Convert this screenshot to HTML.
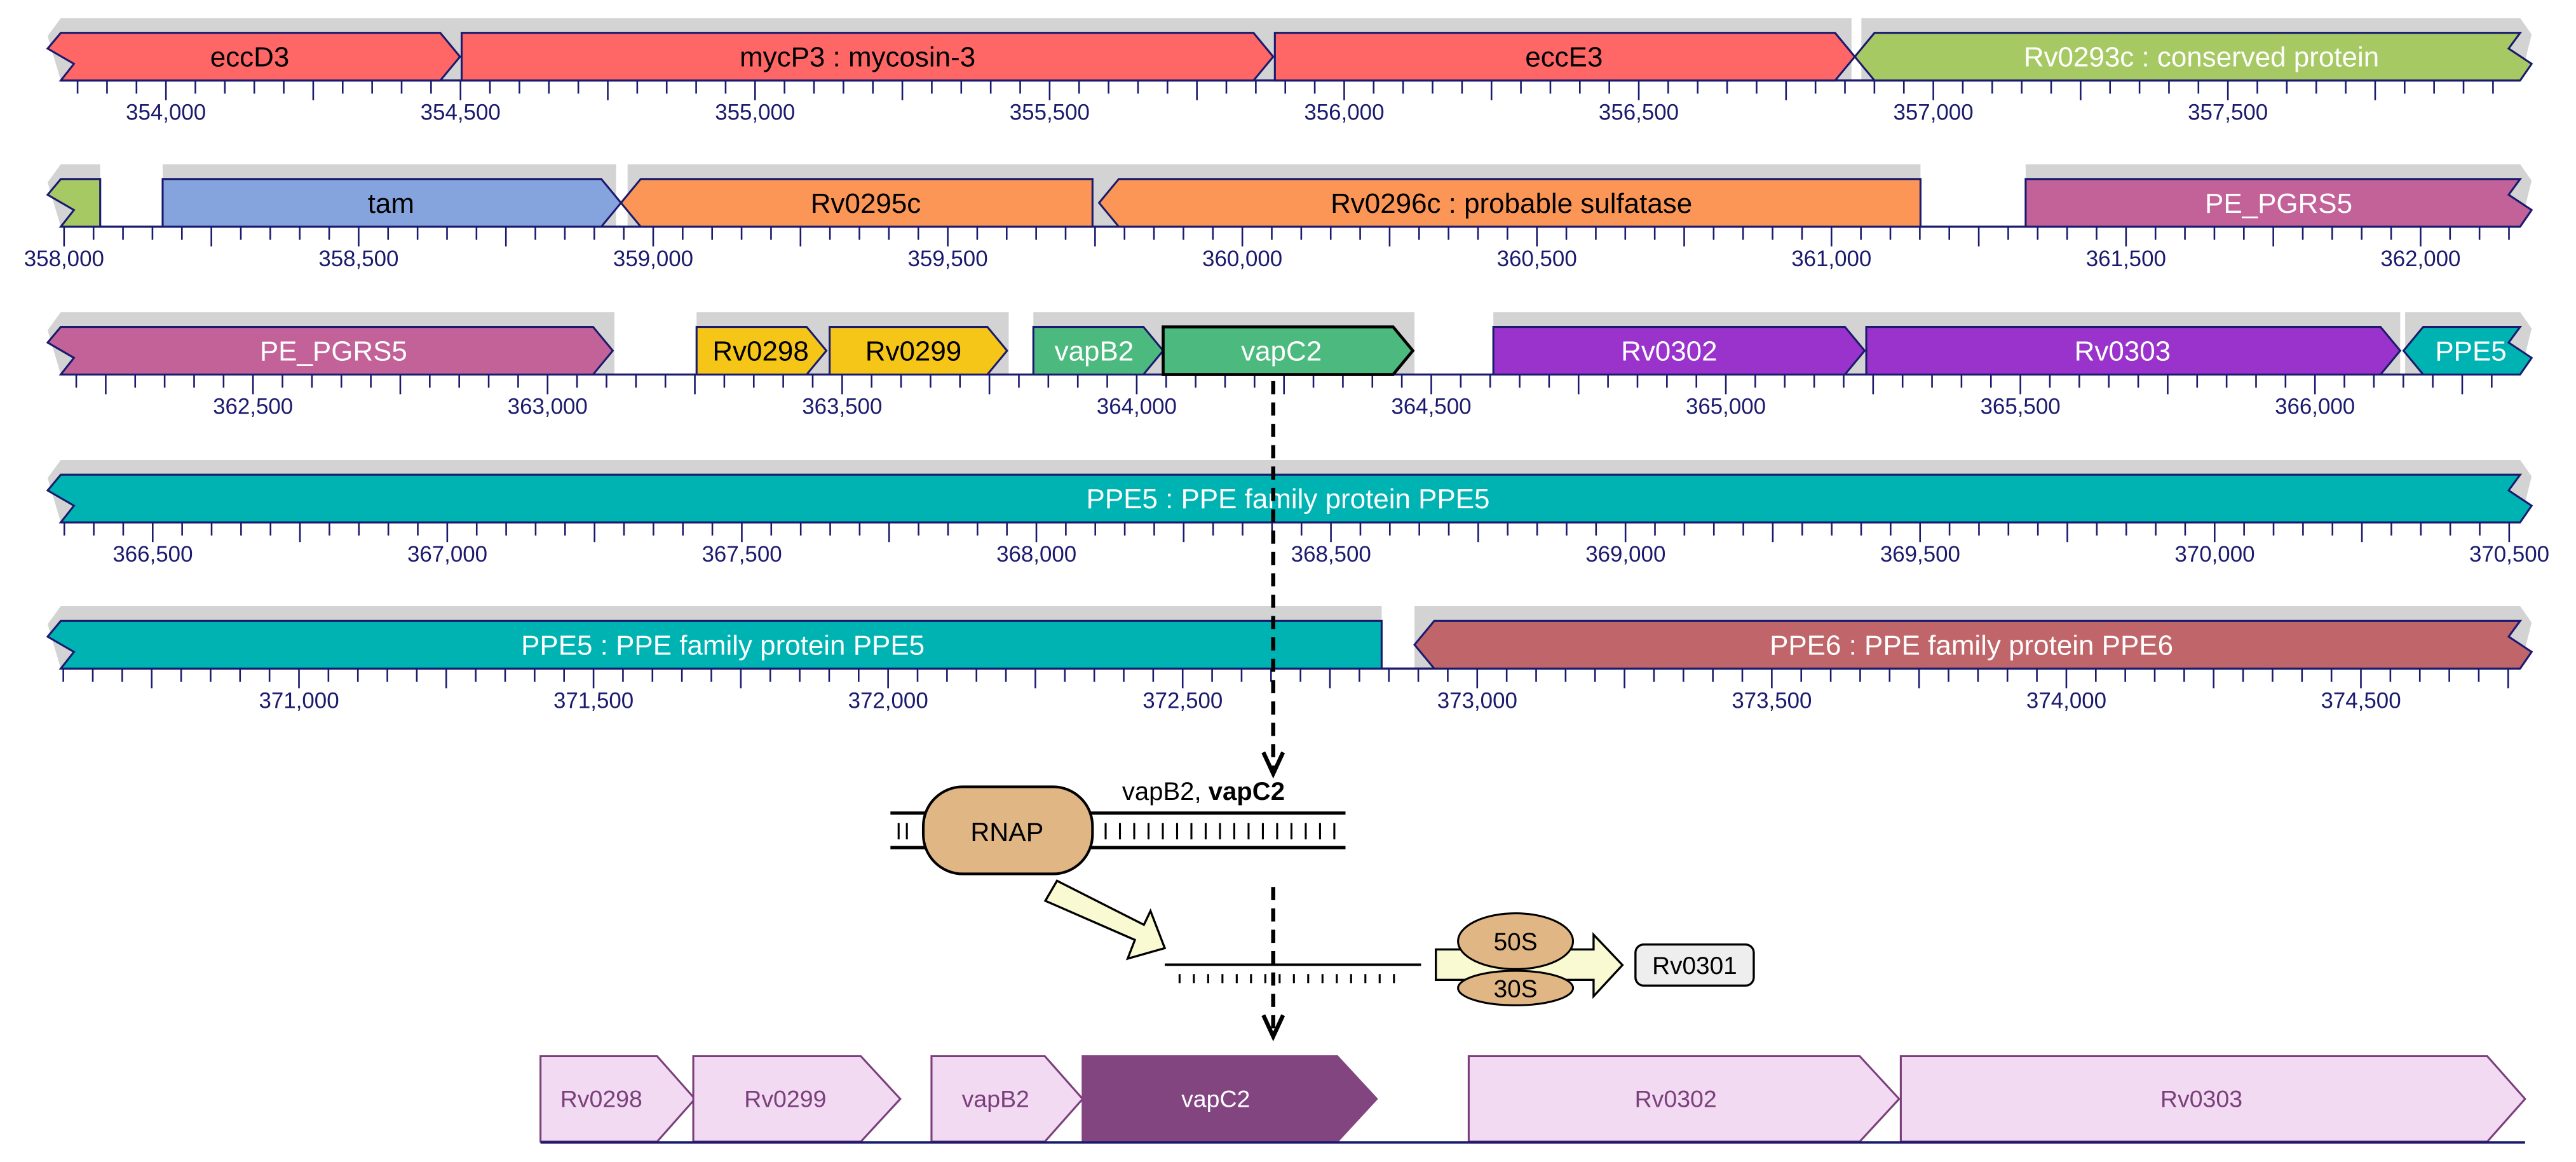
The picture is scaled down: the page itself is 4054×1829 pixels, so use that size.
<!DOCTYPE html>
<html><head><meta charset="utf-8"><style>
html,body{margin:0;padding:0;background:#fff;width:4054px;height:1829px;overflow:hidden}
svg{display:block}
text{font-family:"Liberation Sans",Arial,sans-serif}
</style></head><body>
<svg id="s" xmlns="http://www.w3.org/2000/svg" width="4054" height="1829" viewBox="0 0 1568 707.4" preserveAspectRatio="none">
<g id="grey"></g><g id="axes"></g><g id="genes"></g>
<g id="lbl" font-size="13.5" fill="#1a1a6e" text-anchor="middle">
<text x="101" y="73">354,000</text><text x="280.3" y="73">354,500</text><text x="459.6" y="73">355,000</text><text x="638.9" y="73">355,500</text><text x="818.2" y="73">356,000</text><text x="997.5" y="73">356,500</text><text x="1176.8" y="73">357,000</text><text x="1356.1" y="73">357,500</text>
<text x="39" y="162">358,000</text><text x="218.3" y="162">358,500</text><text x="397.6" y="162">359,000</text><text x="576.9" y="162">359,500</text><text x="756.2" y="162">360,000</text><text x="935.5" y="162">360,500</text><text x="1114.8" y="162">361,000</text><text x="1294.1" y="162">361,500</text><text x="1473.4" y="162">362,000</text>
<text x="154" y="252">362,500</text><text x="333.3" y="252">363,000</text><text x="512.6" y="252">363,500</text><text x="691.9" y="252">364,000</text><text x="871.2" y="252">364,500</text><text x="1050.5" y="252">365,000</text><text x="1229.8" y="252">365,500</text><text x="1409.1" y="252">366,000</text>
<text x="93" y="342">366,500</text><text x="272.3" y="342">367,000</text><text x="451.6" y="342">367,500</text><text x="630.9" y="342">368,000</text><text x="810.2" y="342">368,500</text><text x="989.5" y="342">369,000</text><text x="1168.8" y="342">369,500</text><text x="1348.1" y="342">370,000</text><text x="1527.4" y="342">370,500</text>
<text x="182" y="431">371,000</text><text x="361.3" y="431">371,500</text><text x="540.6" y="431">372,000</text><text x="719.9" y="431">372,500</text><text x="899.2" y="431">373,000</text><text x="1078.5" y="431">373,500</text><text x="1257.8" y="431">374,000</text><text x="1437.1" y="431">374,500</text>
</g>
<g id="gl" font-size="17" text-anchor="middle">
<text x="152" y="40.5">eccD3</text><text x="522" y="40.5">mycP3 : mycosin-3</text><text x="952" y="40.5">eccE3</text><text x="1340" y="40.5" fill="#fff">Rv0293c : conserved protein</text>
<text x="238" y="129.5">tam</text><text x="527" y="129.5">Rv0295c</text><text x="920" y="129.5">Rv0296c : probable sulfatase</text><text x="1387" y="129.5" fill="#fff">PE_PGRS5</text>
<text x="203" y="219.5" fill="#fff">PE_PGRS5</text><text x="463" y="219.5">Rv0298</text><text x="556" y="219.5">Rv0299</text><text x="666" y="219.5" fill="#fff">vapB2</text><text x="780" y="219.5" fill="#fff">vapC2</text><text x="1016" y="219.5" fill="#fff">Rv0302</text><text x="1292" y="219.5" fill="#fff">Rv0303</text><text x="1504" y="219.5" fill="#fff">PPE5</text>
<text x="784" y="309.5" fill="#fff">PPE5 : PPE family protein PPE5</text>
<text x="440" y="398.5" fill="#fff">PPE5 : PPE family protein PPE5</text><text x="1200" y="398.5" fill="#fff">PPE6 : PPE family protein PPE6</text>
</g>
<g stroke="#000" stroke-width="2.5" fill="none">
<line x1="775" y1="232" x2="775" y2="470" stroke-dasharray="8,5"/>
<polyline points="769,458 775,471 781,458"/>
<line x1="775" y1="540" x2="775" y2="630" stroke-dasharray="8,5"/>
<polyline points="769,618 775,631 781,618"/>
</g>
<g stroke="#000" stroke-width="2" fill="none">
<line x1="542" y1="495" x2="819" y2="495"/><line x1="542" y1="516" x2="819" y2="516"/>
</g>
<g id="dnaticks" stroke="#000" stroke-width="1.2"></g>
<rect x="562" y="479" width="103" height="53" rx="24" fill="#dfb684" stroke="#000" stroke-width="1.6"/>
<text x="613" y="512" font-size="16" text-anchor="middle">RNAP</text>
<text x="683" y="487" font-size="15.5">vapB2, <tspan font-weight="bold">vapC2</tspan></text>
<polygon points="643.4,536.2 696.3,563 700.3,554.6 709,577.2 686.4,583.6 690.8,572.2 636.3,548.4" fill="#fafad2" stroke="#000" stroke-width="1.3"/>
<line x1="709" y1="587.3" x2="865" y2="587.3" stroke="#000" stroke-width="1.5"/>
<polygon points="874,578 970,578 970,569 987.6,587.5 970,606.5 970,596.5 874,596.5" fill="#fafad2" stroke="#000" stroke-width="1.3"/>
<ellipse cx="922.5" cy="601.5" rx="35" ry="10.5" fill="#dfb684" stroke="#000" stroke-width="1.2"/>
<ellipse cx="922.5" cy="573" rx="35" ry="17" fill="#dfb684" stroke="#000" stroke-width="1.2"/>
<text x="922.5" y="578.5" font-size="15" text-anchor="middle">50S</text>
<text x="922.5" y="607" font-size="15" text-anchor="middle">30S</text>
<rect x="995.5" y="575" width="72" height="25" rx="5" fill="#eeeeee" stroke="#000" stroke-width="1.3"/>
<text x="1031.5" y="593" font-size="15" text-anchor="middle">Rv0301</text>
<g stroke="#7b3f7b" stroke-width="1.2" fill="#f2daf2">
<polygon points="329,643 400,643 423,669 400,695 329,695"/>
<polygon points="422,643 524,643 548,669 524,695 422,695"/>
<polygon points="567,643 636,643 659,669 636,695 567,695"/>
<polygon points="659,643 814,643 838,669 814,695 659,695" fill="#824580" stroke="#824580"/>
<polygon points="894,643 1132,643 1156,669 1132,695 894,695"/>
<polygon points="1157,643 1514,643 1537,669 1514,695 1157,695"/>
</g>
<line x1="329" y1="695.5" x2="1537" y2="695.5" stroke="#1a1a6e" stroke-width="1.5"/>
<g font-size="14.5" fill="#7b3f7b" text-anchor="middle">
<text x="366" y="674">Rv0298</text><text x="478" y="674">Rv0299</text><text x="606" y="674">vapB2</text><text x="740" y="674" fill="#fff">vapC2</text><text x="1020" y="674">Rv0302</text><text x="1340" y="674">Rv0303</text>
</g>
</svg>
<script>
var NS="http://www.w3.org/2000/svg";
function el(p,t,a){var e=document.createElementNS(NS,t);for(var k in a)e.setAttribute(k,a[k]);document.getElementById(p).appendChild(e);return e;}
var rows=[{s:353821.5,t:20},{s:357994.4,t:109},{s:362173.7,t:199},{s:366344,t:289},{s:370595.7,t:378}];
var H=29,K=0.3586;
rows.forEach(function(r){
  var b=r.t+H;
  el("axes","line",{x1:37,y1:b,x2:1534,y2:b,stroke:"#1a1a6e","stroke-width":1.3});
  var start=Math.ceil(r.s/50)*50;
  for(var bp=start;;bp+=50){var x=37+(bp-r.s)*K;if(x>1534)break;
    var L=(bp%250==0)?12:8;
    el("axes","line",{x1:x,y1:b,x2:x,y2:b+L,stroke:"#1a1a6e","stroke-width":1});}
});
function grey(ri,x1,x2,contL,contR){var t=rows[ri].t,b=t+H;
  var p=[];p.push([x1,t-9]);p.push([x2,t-9]);if(contR)p.push([x2+7,t-9+10]);p.push([x2,b]);p.push([x1,b]);if(contL)p.push([x1-8,t+2]);
  el("grey","polygon",{points:p.map(function(q){return q.join(",")}).join(" "),fill:"#d3d3d3"});}
function gene(ri,x1,x2,dir,col,opt){opt=opt||{};var t=rows[ri].t,b=t+H,m=t+H/2,tw=12,p=[];
  if(opt.cl){p.push([37,b],[45,t+H*0.65],[29,t+H*0.33],[37,t]);}
  else if(dir<0){p.push([x1+tw,b],[x1,m],[x1+tw,t]);}
  else{p.push([x1,b],[x1,t]);}
  if(opt.cr){p.push([1534,t],[1527,t+H*0.33],[1541,t+H*0.65],[1534,b]);}
  else if(dir>0){p.push([x2-tw,t],[x2,m],[x2-tw,b]);}
  else{p.push([x2,t],[x2,b]);}
  el("genes","polygon",{points:p.map(function(q){return q.join(",")}).join(" "),fill:col,stroke:opt.sk||"#1a1a6e","stroke-width":opt.sw||1.2});}
grey(0,37,1127,1,0);grey(0,1133,1534,0,1);
gene(0,37,280,1,"#ff6666",{cl:1});gene(0,281,775,1,"#ff6666");gene(0,776,1129,1,"#ff6666");gene(0,1129,1534,-1,"#a7c964",{cr:1});
grey(1,37,61,1,0);grey(1,99,375,0,0);grey(1,382,1169,0,0);grey(1,1233,1534,0,1);
gene(1,37,61,-1,"#a7c964",{cl:1});gene(1,99,378,1,"#85a3dd");gene(1,378,665,-1,"#fb9656");gene(1,669,1169,-1,"#fb9656");gene(1,1233,1534,1,"#c26299",{cr:1});
grey(2,37,374,1,0);grey(2,424,614,0,0);grey(2,629,861,0,0);grey(2,909,1461,0,0);grey(2,1464,1534,0,1);
gene(2,37,373,1,"#c26299",{cl:1});gene(2,424,503,1,"#f5c518");gene(2,505,613,1,"#f5c518");gene(2,629,708,1,"#4cba7e");
gene(2,708,860,1,"#4cba7e",{sk:"#000",sw:1.8});gene(2,909,1135,1,"#9933cc");gene(2,1136,1461,1,"#9933cc");gene(2,1463,1534,-1,"#00b3b3",{cr:1});
grey(3,37,1534,1,1);gene(3,37,1534,-1,"#00b3b3",{cl:1,cr:1});
grey(4,37,841,1,0);grey(4,861,1534,0,1);
gene(4,29,841,-1,"#00b3b3",{cl:1});gene(4,861,1534,-1,"#c0666a",{cr:1});
[547,552].concat((function(){var a=[];for(var x=673;x<=815;x+=8.7)a.push(x);return a;})()).forEach(function(x){el("dnaticks","line",{x1:x,y1:501,x2:x,y2:511});});
for(var x=718;x<=856;x+=8.7)el("dnaticks","line",{x1:x,y1:593,x2:x,y2:598.5});
</script>
</body></html>
